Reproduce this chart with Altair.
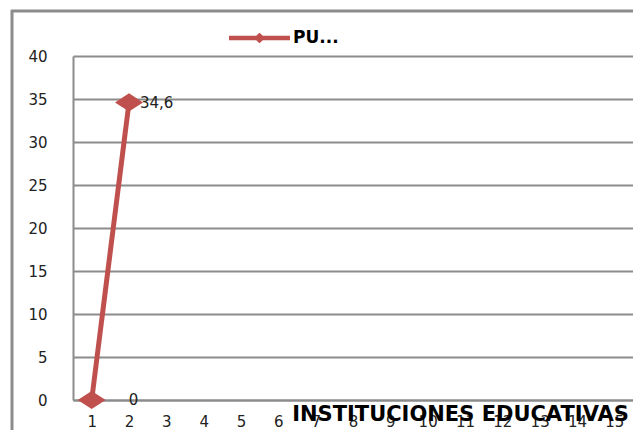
import altair as alt
import pandas as pd

# Categories on the x axis (tick labels)
categories = ["1", "2", "3", "4", "5", "6", "7", "8", "9", "10", "11", "12", "13", "14", "15"]
# Series points
point_cats = ["1", "2"]
point_values = [0, 34.6]
point_labels = ["0", "34,6"]
series_name = "PU..."

RED = "#C0504D"
GRAY = "#8c8c8c"
FONT = "DejaVu Sans"

df = pd.DataFrame({
    "cat": point_cats,
    "value": point_values,
    "label": point_labels,
    "series": [series_name] * len(point_cats),
})

x_enc = alt.X(
    "cat:O",
    scale=alt.Scale(domain=categories),
    axis=alt.Axis(
        title="INSTITUCIONES EDUCATIVAS",
        labelAngle=0,
        ticks=False,
        domainColor=GRAY,
        domainWidth=2,
        labelFont=FONT,
        labelFontSize=15,
        labelColor="#222222",
        labelPadding=21,
        labelBaseline="middle",
        titleFont=FONT,
        titleFontSize=21,
        titleFontWeight="bold",
        titleColor="#000000",
        titleX=387,
        titleY=14,
        titleBaseline="middle",
        titleAlign="center",
    ),
)
y_enc = alt.Y(
    "value:Q",
    scale=alt.Scale(domain=[0, 40], nice=False),
    axis=alt.Axis(
        title=None,
        values=[0, 5, 10, 15, 20, 25, 30, 35, 40],
        ticks=False,
        grid=True,
        gridColor=GRAY,
        gridWidth=2,
        domainColor=GRAY,
        domainWidth=2,
        labelFont=FONT,
        labelFontSize=15,
        labelColor="#222222",
        labelPadding=26,
    ),
)

base = alt.Chart(df)

line = base.mark_line(color=RED, strokeWidth=5).encode(x=x_enc, y=y_enc)

legend_path = "M-1,-0.07L1,-0.07L1,0.07L-1,0.07Z M-0.19,0L0,-0.17L0.19,0L0,0.17Z"

points = base.mark_point(
    filled=True, opacity=1,
    shape="M-1,0L0,-0.65L1,0L0,0.65Z", size=784, strokeWidth=0,
).encode(
    x=x_enc,
    y=y_enc,
    color=alt.Color(
        "series:N",
        scale=alt.Scale(range=[RED]),
        legend=alt.Legend(
            title=None,
            orient="none",
            legendX=156,
            legendY=-48.5,
            padding=0,
            symbolType=legend_path,
            symbolSize=3721,
            symbolStrokeWidth=0,
            labelFont=FONT,
            labelFontSize=17,
            labelFontWeight="bold",
            labelColor="#000000",
            labelOffset=3,
        ),
    ),
)

lab_far = base.transform_filter(alt.datum.cat == "1").mark_text(
    align="left", baseline="middle", dx=37, font=FONT, fontSize=15, color="#222222"
).encode(x=x_enc, y=y_enc, text="label:N")

lab_near = base.transform_filter(alt.datum.cat == "2").mark_text(
    align="left", baseline="middle", dx=11, dy=1, font=FONT, fontSize=15, color="#222222"
).encode(x=x_enc, y=y_enc, text="label:N")

frame_df = pd.DataFrame({"a": [0]})
frame_left = alt.Chart(frame_df).mark_rule(color=GRAY, strokeWidth=3).encode(
    x=alt.value(-61), y=alt.value(-46), y2=alt.value(400)
)
frame_top = alt.Chart(frame_df).mark_rule(color=GRAY, strokeWidth=3).encode(
    x=alt.value(-62), x2=alt.value(620), y=alt.value(-45)
)

chart = alt.layer(frame_left, frame_top, line, points, lab_far, lab_near).properties(
    width=560,
    height=344,
    autosize=alt.AutoSizeParams(type="none"),
    padding={"left": 65, "top": 48, "right": 0, "bottom": 30},
).configure_view(stroke=None)

chart.save("out.html", embed_options={"renderer": "svg", "actions": False})
